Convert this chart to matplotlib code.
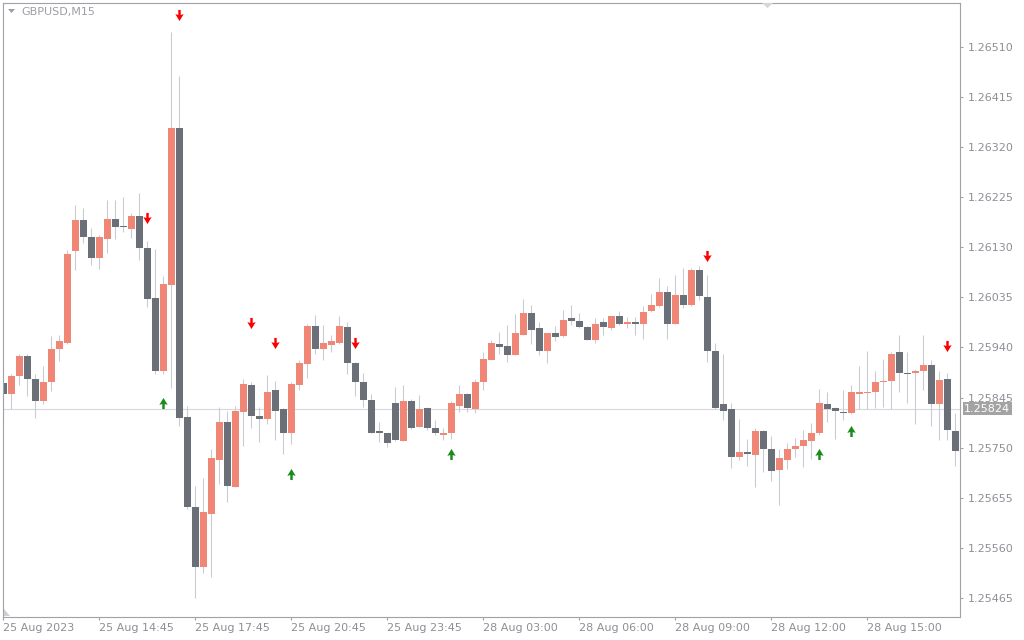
import matplotlib
matplotlib.use('Agg')
import matplotlib.pyplot as plt
import numpy as np
from matplotlib.path import Path
from matplotlib.patches import Polygon

# GBPUSD M15 candles, first one (index -1) is cut by the left border
opens = [1.25872, 1.25851, 1.25886, 1.25923, 1.25881, 1.25839, 1.25874, 1.25938, 1.25949, 1.26122,
         1.26181, 1.26150, 1.26109, 1.26145, 1.26183, 1.26171, 1.26165, 1.26189, 1.26129, 1.26033,
         1.25895, 1.26058, 1.26357, 1.25809, 1.25638, 1.25523, 1.25625, 1.25727, 1.25798, 1.25676,
         1.25817, 1.25868, 1.25811, 1.25805, 1.25859, 1.25823, 1.25777, 1.25868, 1.25908, 1.25980,
         1.25938, 1.25944, 1.25948, 1.25978, 1.25910, 1.25874, 1.25841, 1.25781, 1.25777, 1.25834,
         1.25762, 1.25838, 1.25790, 1.25826, 1.25788, 1.25775, 1.25777, 1.25830, 1.25851, 1.25824,
         1.25874, 1.25917, 1.25946, 1.25942, 1.25925, 1.25964, 1.26006, 1.25976, 1.25934, 1.25968,
         1.25961, 1.25995, 1.25991, 1.25978, 1.25955, 1.25988, 1.25976, 1.25999, 1.25984, 1.25988,
         1.25984, 1.26010, 1.26018, 1.26046, 1.25985, 1.26039, 1.26021, 1.26086, 1.26036, 1.25934,
         1.25832, 1.25824, 1.25732, 1.25742, 1.25737, 1.25781, 1.25747, 1.25707, 1.25727, 1.25747,
         1.25753, 1.25762, 1.25778, 1.25832, 1.25826, 1.25817, 1.25815, 1.25851, 1.25853, 1.25855,
         1.25874, 1.25876, 1.25931, 1.25892, 1.25892, 1.25896, 1.25906, 1.25832, 1.25881, 1.25781]
highs = [1.25908, 1.25889, 1.25927, 1.25928, 1.25889, 1.25904, 1.25961, 1.25964, 1.26124, 1.26210,
         1.26205, 1.26167, 1.26154, 1.26219, 1.26219, 1.26226, 1.26195, 1.26232, 1.26141, 1.26126,
         1.26075, 1.26538, 1.26454, 1.25829, 1.25678, 1.25693, 1.25748, 1.25827, 1.25819, 1.25829,
         1.25881, 1.25874, 1.25827, 1.25887, 1.25877, 1.25825, 1.25874, 1.25916, 1.25985, 1.26002,
         1.25982, 1.25963, 1.26000, 1.25988, 1.25912, 1.25892, 1.25852, 1.25798, 1.25778, 1.25866,
         1.25868, 1.25843, 1.25849, 1.25828, 1.25803, 1.25787, 1.25838, 1.25868, 1.25853, 1.25881,
         1.25931, 1.25955, 1.25970, 1.25982, 1.26004, 1.26031, 1.26020, 1.25989, 1.25968, 1.25980,
         1.26012, 1.26020, 1.26006, 1.25980, 1.25995, 1.25995, 1.26000, 1.26010, 1.25997, 1.25997,
         1.26018, 1.26042, 1.26072, 1.26056, 1.26077, 1.26090, 1.26090, 1.26094, 1.26077, 1.25949,
         1.25927, 1.25835, 1.25805, 1.25767, 1.25788, 1.25783, 1.25773, 1.25747, 1.25758, 1.25769,
         1.25784, 1.25796, 1.25862, 1.25855, 1.25828, 1.25860, 1.25868, 1.25904, 1.25934, 1.25895,
         1.25919, 1.25932, 1.25964, 1.25932, 1.25900, 1.25963, 1.25916, 1.25895, 1.25891, 1.25815]
lows = [1.25796, 1.25824, 1.25868, 1.25848, 1.25807, 1.25832, 1.25857, 1.25914, 1.25946, 1.26086,
        1.26139, 1.26097, 1.26088, 1.26120, 1.26145, 1.26158, 1.26147, 1.26105, 1.26017, 1.25889,
        1.25889, 1.25863, 1.25792, 1.25634, 1.25466, 1.25513, 1.25505, 1.25682, 1.25648, 1.25676,
        1.25754, 1.25787, 1.25760, 1.25794, 1.25764, 1.25739, 1.25757, 1.25859, 1.25882, 1.25928,
        1.25917, 1.25932, 1.25946, 1.25889, 1.25848, 1.25827, 1.25777, 1.25760, 1.25751, 1.25763,
        1.25762, 1.25786, 1.25790, 1.25783, 1.25775, 1.25764, 1.25766, 1.25817, 1.25817, 1.25815,
        1.25859, 1.25916, 1.25928, 1.25913, 1.25925, 1.25964, 1.25946, 1.25925, 1.25910, 1.25953,
        1.25960, 1.25983, 1.25976, 1.25955, 1.25948, 1.25963, 1.25974, 1.25982, 1.25976, 1.25964,
        1.25957, 1.26008, 1.26016, 1.25957, 1.25985, 1.26014, 1.26018, 1.26030, 1.25912, 1.25824,
        1.25803, 1.25711, 1.25726, 1.25715, 1.25676, 1.25703, 1.25687, 1.25641, 1.25709, 1.25732,
        1.25713, 1.25728, 1.25775, 1.25799, 1.25767, 1.25802, 1.25813, 1.25824, 1.25823, 1.25826,
        1.25828, 1.25824, 1.25856, 1.25835, 1.25794, 1.25860, 1.25792, 1.25764, 1.25764, 1.25715]
closes = [1.25852, 1.25885, 1.25923, 1.25880, 1.25839, 1.25875, 1.25938, 1.25953, 1.26118, 1.26181,
          1.26150, 1.26109, 1.26149, 1.26183, 1.26169, 1.26168, 1.26189, 1.26128, 1.26032, 1.25895,
          1.26061, 1.26357, 1.25807, 1.25638, 1.25523, 1.25629, 1.25730, 1.25798, 1.25678, 1.25819,
          1.25870, 1.25811, 1.25805, 1.25856, 1.25819, 1.25777, 1.25870, 1.25910, 1.25980, 1.25938,
          1.25949, 1.25952, 1.25980, 1.25910, 1.25874, 1.25841, 1.25778, 1.25777, 1.25758, 1.25764,
          1.25839, 1.25787, 1.25824, 1.25787, 1.25777, 1.25777, 1.25834, 1.25851, 1.25826, 1.25875,
          1.25919, 1.25948, 1.25940, 1.25925, 1.25967, 1.26006, 1.25974, 1.25934, 1.25967, 1.25959,
          1.25993, 1.25991, 1.25978, 1.25955, 1.25985, 1.25978, 1.25999, 1.25984, 1.25988, 1.25984,
          1.26008, 1.26020, 1.26046, 1.25985, 1.26039, 1.26020, 1.26086, 1.26037, 1.25933, 1.25826,
          1.25820, 1.25733, 1.25741, 1.25739, 1.25781, 1.25747, 1.25706, 1.25730, 1.25748, 1.25754,
          1.25764, 1.25778, 1.25834, 1.25824, 1.25819, 1.25815, 1.25855, 1.25856, 1.25856, 1.25874,
          1.25877, 1.25928, 1.25891, 1.25889, 1.25896, 1.25906, 1.25832, 1.25879, 1.25783, 1.25743]

# fractal style signals (candle index, price of arrow centre)
down_idx = [17, 21, 30, 33, 43, 87, 117]
down_price = [1.26186, 1.26570, 1.25987, 1.25949, 1.25949, 1.26114, 1.25943]
up_idx = [19, 35, 55, 101, 105]
up_price = [1.25835, 1.25700, 1.25739, 1.25739, 1.25781]

price_ticks = [1.26510, 1.26415, 1.26320, 1.26225, 1.26130, 1.26035,
               1.25940, 1.25845, 1.25750, 1.25655, 1.25560, 1.25465]
time_idx = [-1, 11, 23, 35, 47, 59, 71, 83, 95, 107]
time_labels = ['25 Aug 2023', '25 Aug 14:45', '25 Aug 17:45', '25 Aug 20:45', '25 Aug 23:45',
               '28 Aug 03:00', '28 Aug 06:00', '28 Aug 09:00', '28 Aug 12:00', '28 Aug 15:00']
bid = 1.25824

bull_col = '#ef8676'
bear_col = '#6b6f77'
wick_col = '#c9ccd3'
frame_col = '#a2a2a6'
text_col = '#8e8e96'

o = np.array(opens)
h = np.array(highs)
l = np.array(lows)
c = np.array(closes)
x = np.arange(len(o)) - 1

fig = plt.figure(figsize=(10.24, 6.4), dpi=100)
ax = fig.add_axes([3 / 1024, 1 - 616.5 / 640, 957 / 1024, 614 / 640])

ax.axhline(bid, color='#d5d8de', lw=0.8, zorder=0)

ax.vlines(x, l, h, color=wick_col, lw=0.8, zorder=1)
bull = c >= o
body_lo = np.minimum(o, c)
body_h = np.maximum(np.abs(c - o), 0.000019)
ax.bar(x[bull], body_h[bull], bottom=body_lo[bull], width=0.875, color=bull_col, zorder=2, linewidth=0)
ax.bar(x[~bull], body_h[~bull], bottom=body_lo[~bull], width=0.875, color=bear_col, zorder=2, linewidth=0)

# thick arrows like the terminal draws them
arrow_down = Path([(-0.22, 1), (0.22, 1), (0.22, 0.1), (0.75, 0.25), (0, -1),
                   (-0.75, 0.25), (-0.22, 0.1), (-0.22, 1)])
arrow_up = Path([(px, -py) for px, py in arrow_down.vertices])
ax.plot(down_idx, down_price, ls='none', marker=arrow_down, ms=8, color='#ff0000',
        markeredgewidth=0, zorder=3)
ax.plot(up_idx, up_price, ls='none', marker=arrow_up, ms=8, color='#1a8a1a',
        markeredgewidth=0, zorder=3)

ax.set_xlim(-1.04, 118.59)
ax.set_ylim(1.25430, 1.26594)

for s in ax.spines.values():
    s.set_color(frame_col)
    s.set_linewidth(0.8)

ax.yaxis.tick_right()
ax.set_yticks(price_ticks)
ax.set_yticklabels(['%.5f' % p for p in price_ticks])
ax.tick_params(axis='y', colors=frame_col, labelcolor=text_col, length=2.5, width=0.8,
               pad=3, labelsize=8)
ax.set_xticks(time_idx)
ax.set_xticklabels(time_labels, ha='left')
ax.tick_params(axis='x', colors=frame_col, labelcolor=text_col, length=2.5, width=0.8,
               pad=2, labelsize=8)

# current price tag on the scale
ax.text(1.0045, bid, '%.5f' % bid, transform=ax.get_yaxis_transform(), color='white',
        fontsize=8, va='center', ha='left', zorder=5,
        bbox=dict(boxstyle='square,pad=0.15', fc='#a3a3a3', ec='none'))

fig.text(21 / 1024, 1 - 12 / 640, 'GBPUSD,M15', color='#9d9da5', fontsize=8, va='center', ha='left')
fig.add_artist(Polygon([[8 / 1024, 1 - 9 / 640], [15 / 1024, 1 - 9 / 640], [11.5 / 1024, 1 - 13 / 640]],
                       closed=True, transform=fig.transFigure, fc='#9d9da5', ec='none'))
fig.add_artist(Polygon([[762 / 1024, 1 - 3 / 640], [773 / 1024, 1 - 3 / 640], [767.5 / 1024, 1 - 8 / 640]],
                       closed=True, transform=fig.transFigure, fc='#d6d6dc', ec='none'))
fig.add_artist(Polygon([[3.5 / 1024, 1 - 609 / 640], [3.5 / 1024, 1 - 616 / 640], [10 / 1024, 1 - 616 / 640]],
                       closed=True, transform=fig.transFigure, fc='#cdcdd8', ec='none'))

fig.savefig('out.png', dpi=100, facecolor='white')
